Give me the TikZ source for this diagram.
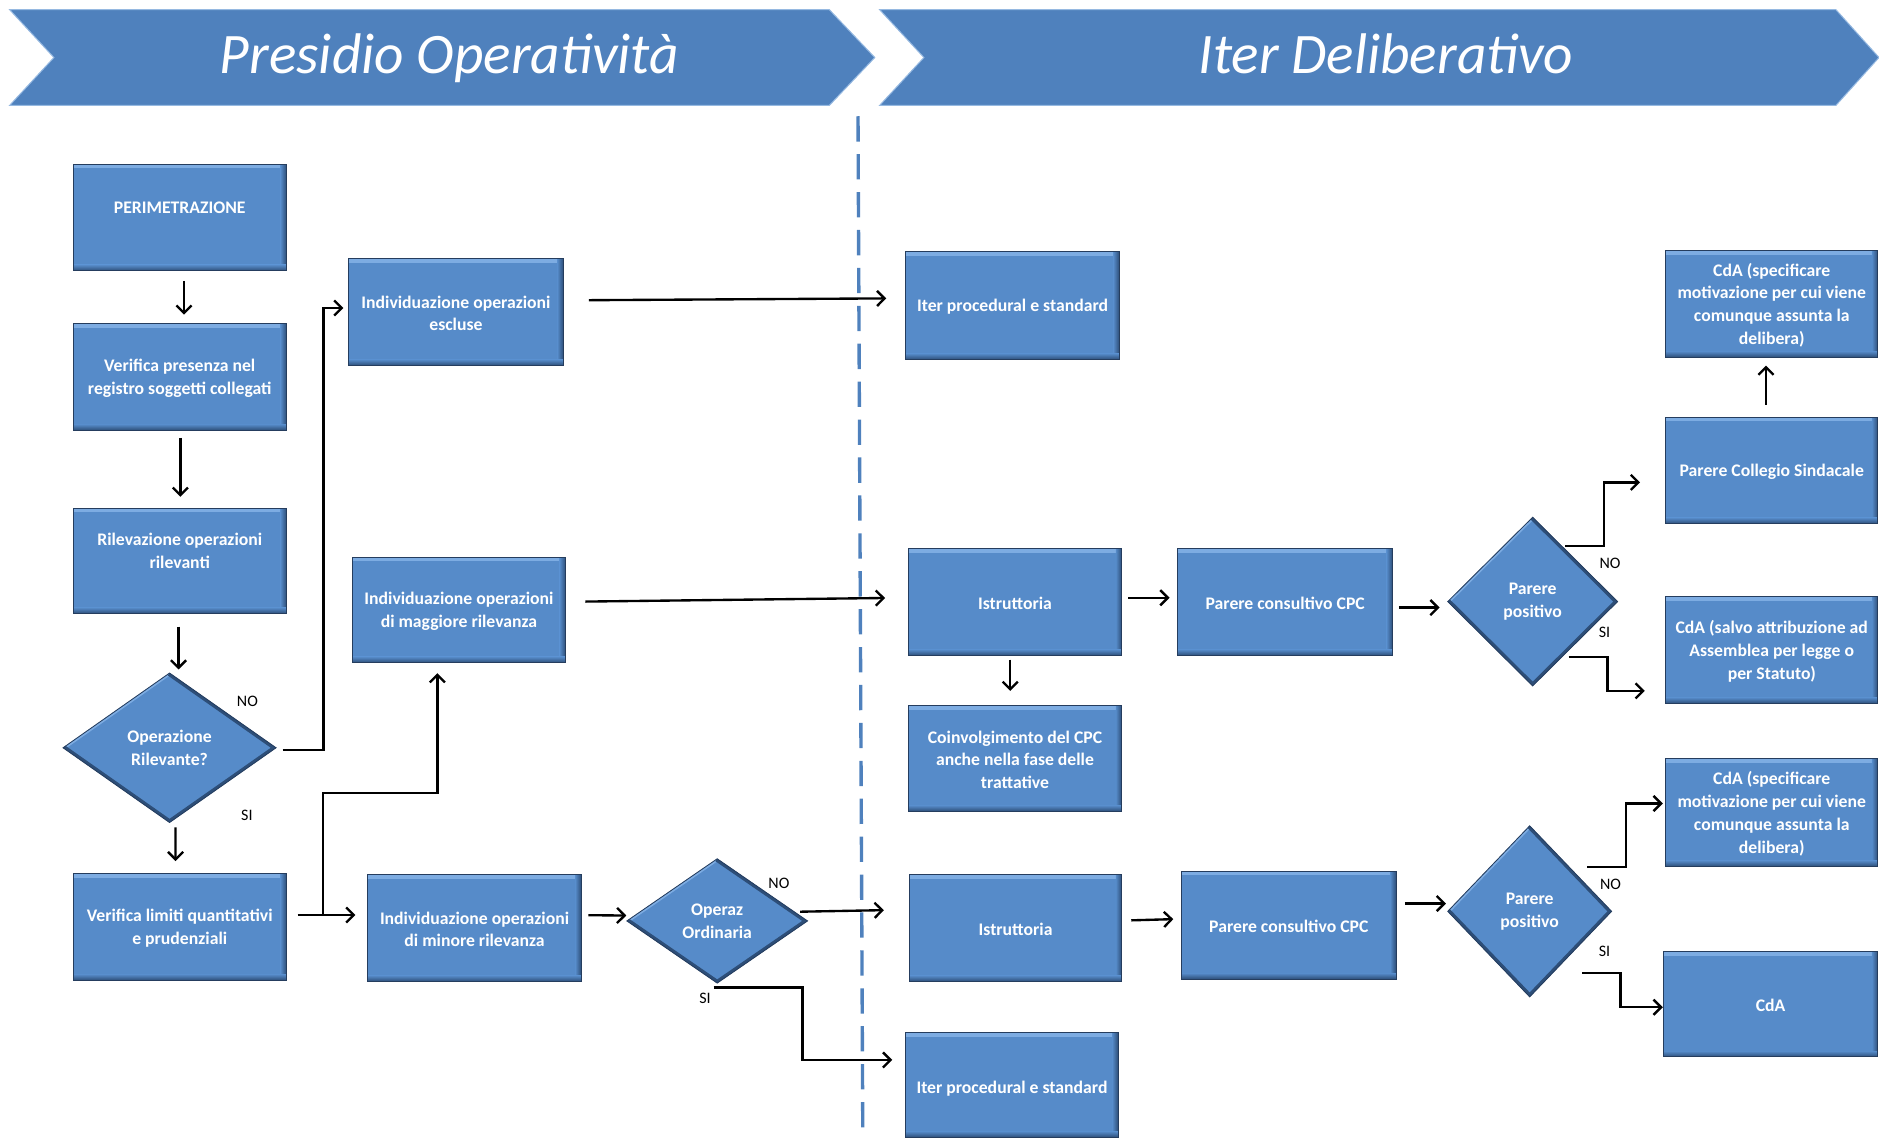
\documentclass[tikz,border=0pt]{standalone}
\usepackage{fontspec}
\setmainfont{Carlito}
\usetikzlibrary{arrows.meta,calc,shapes.geometric,fit}
\definecolor{bannerblue}{RGB}{79,129,189}
\definecolor{bannerline}{RGB}{150,185,225}
\definecolor{boxblue}{RGB}{86,139,201}
\definecolor{boxedge}{RGB}{37,61,94}
\definecolor{boxlight}{RGB}{125,172,226}
\definecolor{boxdark}{RGB}{45,78,120}
\tikzset{
  box/.style={rectangle, fill=boxblue, draw=boxedge, line width=0.6pt, inner sep=0pt,
    path picture={
      \fill[boxlight] (path picture bounding box.north west) rectangle ([yshift=-2.4pt]path picture bounding box.north east);
      \shade[left color=boxblue, right color=boxdark] ([xshift=-3.5pt]path picture bounding box.north east) rectangle (path picture bounding box.south east);
      \shade[top color=boxblue, bottom color=boxdark] ([yshift=3.5pt]path picture bounding box.south west) rectangle (path picture bounding box.south east);
    }},
  boxtext/.style={text=white, font=\bfseries\fontsize{10.5}{13.5}\selectfont, align=center, inner sep=0pt, yshift=-0.7pt},
  dia/.style={diamond, fill=boxblue, draw=boxedge, line width=0.5pt, inner sep=0pt,
    text=white, font=\bfseries\fontsize{10.5}{13.5}\selectfont, align=center,
    path picture={
      \draw[boxlight, line width=2.6pt] (path picture bounding box.west) -- (path picture bounding box.north);
      \draw[boxdark, line width=3.6pt, line join=round] (path picture bounding box.north) -- (path picture bounding box.east) -- (path picture bounding box.south) -- (path picture bounding box.west);
    }},
  lbl/.style={inner sep=0pt, text=black, font=\fontsize{9.5}{11}\selectfont},
  arr/.style={draw=black, line width=1.4pt, -{Straight Barb[length=4.5pt,width=9pt]}},
  banner/.style={fill=bannerblue, draw=bannerline, line width=0.6pt},
  titletext/.style={text=white, font=\itshape\fontsize{34}{40}\selectfont, inner sep=0pt, anchor=base},
  divider/.style={draw=bannerblue, line width=2pt, dash pattern=on 15pt off 7.5pt}
}
\begin{document}
\begin{tikzpicture}[x=0.025cm, y=-0.025cm]
\useasboundingbox (0,0) rectangle (1568,950);

% banners
\path[banner] (8,8) -- (692,8) -- (730,48) -- (692,88) -- (8,88) -- (45,48) -- cycle;
\path[banner] (734,8) -- (1532,8) -- (1568,48) -- (1532,88) -- (734,88) -- (771,48) -- cycle;
\node[titletext] (t1) at (375,61) {Presidio Operatività};
\node[titletext] (t2) at (1156.5,61) {Iter Deliberativo};

% divider
\draw[divider] (716,97) -- (720,950);

% left column boxes
\node[box, fit={(61,137) (239,226)}, label={[boxtext]center:PERIMETRAZIONE\\\mbox{}}] (perim) {};
\node[box, fit={(61,270) (239,359)}, label={[boxtext]center:Verifica presenza nel\\registro soggetti collegati}] (verpres) {};
\node[box, fit={(61,424) (239,512)}, label={[boxtext]center:Rilevazione operazioni\\rilevanti\\\mbox{}}] (rilev) {};
\node[box, fit={(61,729) (239,818)}, label={[boxtext]center:Verifica limiti quantitativi\\e prudenziali}] (verlim) {};
\node[box, fit={(291,216) (470,305)}, label={[boxtext]center:Individuazione operazioni\\escluse}] (escl) {};
\node[box, fit={(294,465) (472,553)}, label={[boxtext]center:Individuazione operazioni\\di maggiore rilevanza}] (magg) {};
\node[box, fit={(307,730) (485,819)}, label={[boxtext]center:Individuazione operazioni\\di minore rilevanza}] (minore) {};

% right side boxes
\node[box, fit={(756,210) (934,300)}, label={[boxtext]center:Iter procedural e standard}] (iter1) {};
\node[box, fit={(758,458) (936,547)}, label={[boxtext]center:Istruttoria}] (istr1) {};
\node[box, fit={(758,589) (936,677)}, label={[boxtext]center:Coinvolgimento del CPC\\anche nella fase delle\\trattative}] (coinv) {};
\node[box, fit={(983,458) (1162,547)}, label={[boxtext]center:Parere consultivo CPC}] (cpc1) {};
\node[box, fit={(1390,348) (1567,437)}, label={[boxtext]center:Parere Collegio Sindacale}] (coll) {};
\node[box, fit={(1390,209) (1567,298)}, label={[boxtext]center:CdA (specificare\\motivazione per cui viene\\comunque assunta la\\delibera)}] (spec1) {};
\node[box, fit={(1390,498) (1567,587)}, label={[boxtext]center:CdA (salvo attribuzione ad\\Assemblea per legge o\\per Statuto)}] (salvo) {};
\node[box, fit={(759,730) (936,819)}, label={[boxtext]center:Istruttoria}] (istr2) {};
\node[box, fit={(986,727) (1165,817)}, label={[boxtext]center:Parere consultivo CPC}] (cpc2) {};
\node[box, fit={(1390,633) (1567,723)}, label={[boxtext]center:CdA (specificare\\motivazione per cui viene\\comunque assunta la\\delibera)}] (spec2) {};
\node[box, fit={(1388,794) (1567,882)}, label={[boxtext]center:CdA}] (cda) {};
\node[box, fit={(756,862) (933,949)}, label={[boxtext, yshift=-1.5pt]center:Iter procedural e standard}] (iter2) {};

% diamonds
\node[dia, minimum width=4.45cm, minimum height=3.125cm, shape aspect=1.42] (d1) at (141.5,624) {Operazione\\Rilevante?};
\node[dia, minimum width=3.775cm, minimum height=2.6cm, shape aspect=1.45] (d2) at (598.5,768.5) {Operaz\\Ordinaria};
\node[dia, minimum width=3.55cm, minimum height=3.525cm, shape aspect=1] (d3) at (1279,502) {Parere\\positivo};
\node[dia, minimum width=3.425cm, minimum height=3.575cm, shape aspect=0.96] (d4) at (1276.5,760.5) {Parere\\positivo};

% labels
\node[lbl] (no1) at (206.5,585) {NO};
\node[lbl] (si1) at (206,680) {SI};
\node[lbl] (no2) at (650,737) {NO};
\node[lbl] (si2) at (588.3,833) {SI};
\node[lbl] (no3) at (1343.6,470) {NO};
\node[lbl] (si3) at (1339,528) {SI};
\node[lbl] (no4) at (1344,738) {NO};
\node[lbl] (si4) at (1339,794) {SI};

% connectors - left column
\draw[arr] ($(perim.south)+(3.5,8)$) -- ($(verpres.north)+(3.5,-7)$);
\draw[arr] ($(verpres.south)+(0.5,6)$) -- ($(rilev.north)+(0.5,-9)$);
\draw[arr] ($(rilev.south)+(-1,10.5)$) -- ($(rilev.south |- d1.north)+(-1,-2.5)$);
\draw[arr] ($(d1.south)+(5,3.5)$) -- ($(verlim.north)+(-3.5,-10)$);
\draw[arr] ($(d1.east)+(5,2)$) -- ++(34,0) |- ($(escl.west)+(-4,-3.5)$);

\coordinate (c6s) at ($(verlim.east)+(9,-10)$);
\draw[arr, shorten >=0.25cm] (c6s) -- (minore.west |- c6s);
\coordinate (c6b) at ($(c6s)+(21.3,0)$);
\draw[arr] (c6b) |- ($(magg.south)+(-18,108.3)$) -- ($(magg.south)+(-18,8.3)$);

\draw[arr] ($(escl.east)+(21,-10)$) -- ($(iter1.west)+(-16,-6)$);
\draw[arr] ($(magg.east)+(16,-7)$) -- ($(istr1.west)+(-19,-3.5)$);
\draw[arr] ($(minore.east)+(5.5,-10.8)$) -- ($(d2.west)+(0,-4.5)$);
\draw[arr] ($(d2.east)+(-6.6,-7.7)$) -- ($(istr2.west)+(-21,-15)$);
\draw[arr] ($(d2.south)+(-3,3.3)$) -- ++(74.2,0) |- ($(iter2.west)+(-11,-21)$);

% connectors - upper right
\draw[arr] ($(istr1.south)+(-4,3)$) -- ($(coinv.north)+(-4,-12)$);
\draw[arr] ($(istr1.east)+(5,-3.7)$) -- ($(cpc1.west)+(-6.6,-3.7)$);
\draw[arr] ($(cpc1.east)+(5,4.5)$) -- ($(d3.west)+(-6.3,5)$);
\draw[arr] ($(d3.east)+(-44,-46.4)$) -- ++(32,0) |- ($(coll.west)+(-21,10)$);
\draw[arr] ($(d3.east)+(-41.4,46)$) -- ++(32.4,0) |- ($(salvo.west)+(-17,34)$);
\draw[arr] ($(coll.north)+(-4.8,-10)$) -- ($(spec1.south)+(-4.8,6.6)$);

% connectors - lower right
\draw[arr] ($(istr2.east)+(7.6,-6.5)$) -- ($(cpc2.west)+(-6.5,-5)$);
\draw[arr] ($(cpc2.east)+(7,-18)$) -- ($(d4.west)+(-1,-6.5)$);
\draw[arr] ($(d4.east)+(-21,-36.8)$) -- ++(32.6,0) |- ($(spec2.west)+(-2,-7.5)$);
\draw[arr] ($(d4.east)+(-25,51.5)$) -- ++(32,0) |- ($(cda.west)+(0,2.5)$);
\end{tikzpicture}
\end{document}
